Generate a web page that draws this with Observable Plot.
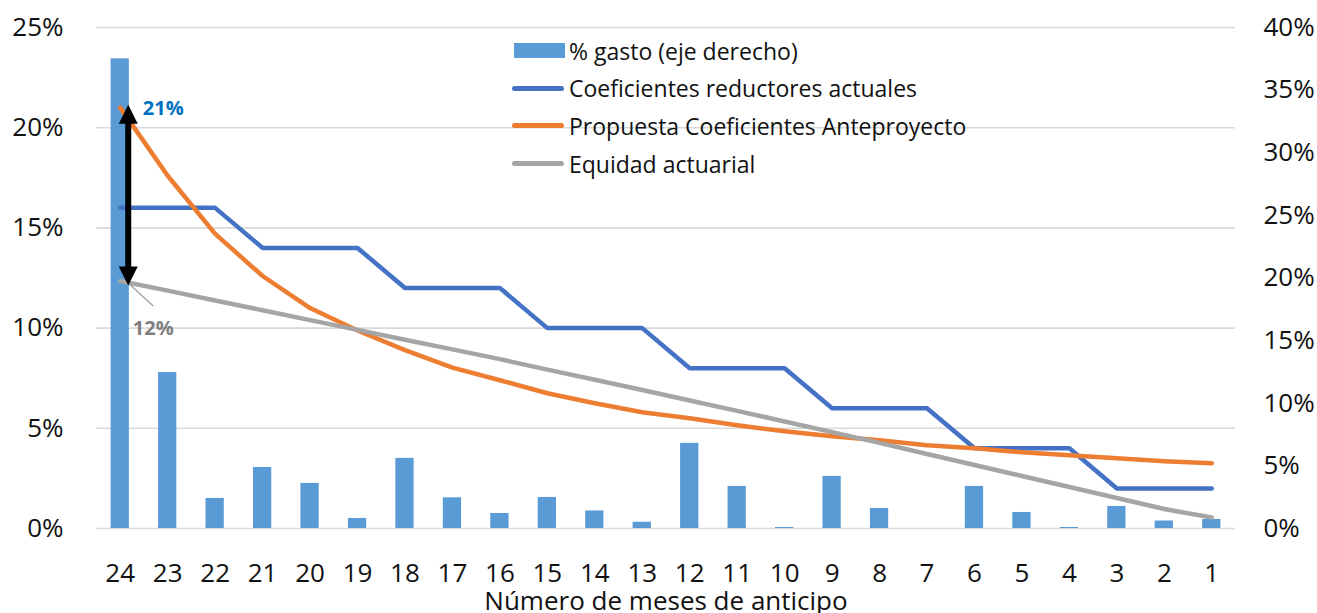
<!DOCTYPE html>
<html>
<head>
<meta charset="utf-8">
<script src="https://cdn.jsdelivr.net/npm/d3@7"></script>
<script src="https://cdn.jsdelivr.net/npm/@observablehq/plot@0.6"></script>
<style>
  html, body { margin: 0; padding: 0; background: #fff; }
  #wrap { position: relative; width: 1317px; height: 613px; overflow: hidden; font-family: "Open Sans", sans-serif; }
  #legend { position: absolute; left: 510px; top: 32px; font-size: 23px; color: #111; }
  .row { display: flex; align-items: center; height: 37.6px; }
  .sw { width: 56px; display: flex; align-items: center; justify-content: center; }
  .sw .rect { width: 51px; height: 15px; margin-left: 2px; }
  .sw .line { width: 52px; height: 5px; border-radius: 3px; }
  .lab { margin-left: 3px; white-space: nowrap; }
</style>
</head>
<body>
<div id="wrap"><div id="chart"></div><div id="legend"></div></div>
<script>
// ---- data ----
const months = [24,23,22,21,20,19,18,17,16,15,14,13,12,11,10,9,8,7,6,5,4,3,2,1];
// % gasto (eje derecho), in %
const gasto = [37.5,12.45,2.4,4.87,3.6,0.8,5.6,2.45,1.2,2.48,1.4,0.5,6.8,3.36,0.08,4.16,1.6,0,3.36,1.28,0.08,1.76,0.6,0.72];
// Coeficientes reductores actuales, in %
const actuales = [16,16,16,14,14,14,12,12,12,10,10,10,8,8,8,6,6,6,4,4,4,2,2,2];
// Propuesta Coeficientes Anteproyecto, in %
const propuesta = [21,17.6,14.7,12.6,11.0,9.88,8.9,8.03,7.4,6.75,6.25,5.8,5.5,5.15,4.85,4.6,4.4,4.15,4.0,3.8,3.65,3.5,3.35,3.25];
// Equidad actuarial, in %
const equidad = [12.35,11.87,11.38,10.89,10.40,9.91,9.42,8.94,8.45,7.93,7.42,6.91,6.39,5.87,5.34,4.81,4.27,3.72,3.17,2.62,2.07,1.52,0.97,0.55];

const leftTicks = [0,5,10,15,20,25];
const rightTicks = [0,5,10,15,20,25,30,35,40];
const leftMax = 25, rightMax = 40;

const seriesNames = ["% gasto (eje derecho)","Coeficientes reductores actuales","Propuesta Coeficientes Anteproyecto","Equidad actuarial"];
const colors = ["#5b9bd5","#4472c4","#ed7d31","#a5a5a5"];

// annotation: double arrow between 21% and 12%
const arrowMonth = "24";
const arrowTop = 21.15, arrowBottom = 12.13;
const labelTop = {text: "21%", value: 21};
const labelBottom = {text: "12%", value: 12.25};

// ---- build table ----
const rows = months.map((m, i) => ({
  m: String(m),
  gasto: gasto[i] / 100 * leftMax / rightMax,
  actuales: actuales[i] / 100,
  propuesta: propuesta[i] / 100,
  equidad: equidad[i] / 100
}));

const headUp = {draw(ctx) { ctx.moveTo(0, 0); ctx.lineTo(9.5, 19); ctx.lineTo(-9.5, 19); ctx.closePath(); }};
const headDown = {draw(ctx) { ctx.moveTo(0, 0); ctx.lineTo(9.5, -19); ctx.lineTo(-9.5, -19); ctx.closePath(); }};
const leader = {draw(ctx) { ctx.moveTo(0, 0); ctx.lineTo(25, 23); }};

const font = "Open Sans";
const chart = Plot.plot({
  width: 1317, height: 613,
  marginLeft: 96, marginRight: 82, marginTop: 27, marginBottom: 85,
  style: {fontFamily: font, fontSize: "26px", color: "#111", background: "#fff", overflow: "visible"},
  x: {domain: months.map(String), paddingInner: 0.615, paddingOuter: 0.3075, round: false, label: null},
  y: {domain: [0, leftMax / 100], label: null},
  marks: [
    Plot.gridY(leftTicks.map(d => d / 100), {stroke: "#d9d9d9", strokeOpacity: 1, strokeWidth: 1.6}),
    Plot.barY(rows, {x: "m", y: "gasto", fill: colors[0]}),
    Plot.lineY(rows, {x: "m", y: "actuales", stroke: colors[1], strokeWidth: 4.5, strokeLinecap: "round", strokeLinejoin: "miter"}),
    Plot.lineY(rows, {x: "m", y: "propuesta", stroke: colors[2], strokeWidth: 4.5, strokeLinecap: "round", strokeLinejoin: "round"}),
    Plot.lineY(rows, {x: "m", y: "equidad", stroke: colors[3], strokeWidth: 4.5, strokeLinecap: "round", strokeLinejoin: "round"}),
    // annotation
    Plot.dot([0], {x: () => arrowMonth, y: () => labelBottom.value / 100, symbol: leader, r: 5, fill: "none", stroke: "#a5a5a5", strokeWidth: 1.5, dx: 8}),
    Plot.ruleX([arrowMonth], {x: d => d, y1: (arrowBottom + 0.9) / 100, y2: (arrowTop - 0.9) / 100, stroke: "#000", strokeWidth: 6, dx: 8}),
    Plot.dot([0], {x: () => arrowMonth, y: () => arrowTop / 100, symbol: headUp, r: 5, fill: "#000", stroke: "none", dx: 8}),
    Plot.dot([0], {x: () => arrowMonth, y: () => arrowBottom / 100, symbol: headDown, r: 5, fill: "#000", stroke: "none", dx: 8}),
    Plot.text([labelTop], {x: () => arrowMonth, y: d => d.value / 100, text: "text", dx: 43, dy: 1, fill: "#0070c0", fontWeight: "bold", fontSize: 20}),
    Plot.text([labelBottom], {x: () => arrowMonth, y: d => d.value / 100, text: "text", dx: 33, dy: 46, fill: "#7f7f7f", fontWeight: "bold", fontSize: 20}),
    // axes
    Plot.axisY(leftTicks.map(d => d / 100), {anchor: "left", tickSize: 0, tickPadding: 33, tickFormat: d => Math.round(d * 100) + "%", label: null, fontSize: 26}),
    Plot.axisY(rightTicks.map(d => d / 100 * leftMax / rightMax), {anchor: "right", tickSize: 0, tickPadding: 28, tickFormat: d => Math.round(d * 100 * rightMax / leftMax) + "%", label: null, fontSize: 26}),
    Plot.axisX({anchor: "bottom", tickSize: 0, tickPadding: 35, fontSize: 26, label: "Número de meses de anticipo", labelAnchor: "center", labelOffset: 81, labelArrow: "none"})
  ]
});
document.getElementById("chart").appendChild(chart);

// legend
const legend = d3.select("#legend");
seriesNames.forEach((name, i) => {
  const row = legend.append("div").attr("class", "row");
  const sw = row.append("div").attr("class", "sw");
  sw.append("div").attr("class", i === 0 ? "rect" : "line").style("background", colors[i]);
  row.append("div").attr("class", "lab").text(name);
});
</script>
</body>
</html>
